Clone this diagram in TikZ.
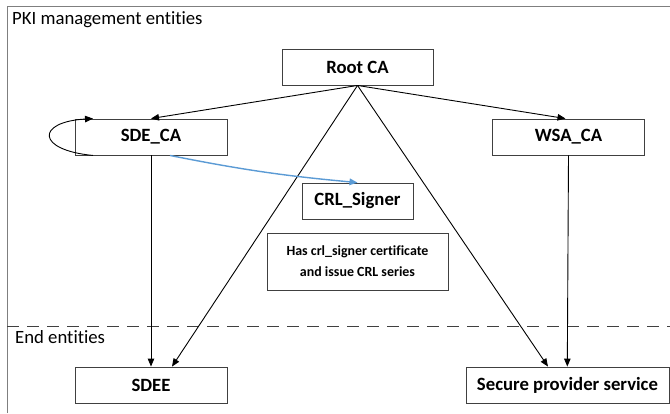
\documentclass[tikz,border=0pt]{standalone}
\usepackage{fontspec}
\setmainfont[Ligatures=NoCommon]{Carlito}
\usetikzlibrary{arrows.meta}
\definecolor{boxline}{HTML}{404040}
\definecolor{frameline}{HTML}{7F7F7F}
\definecolor{blueline}{HTML}{5B9BD5}
\begin{document}
\begin{tikzpicture}[x=1bp,y=-1bp,
  entity/.style={draw=boxline,line width=0.9bp,fill=white,inner sep=0pt,
    minimum height=36bp,font=\fontsize{18.8}{21}\selectfont\bfseries},
  note/.style={draw=boxline,line width=0.9bp,fill=white,inner sep=0pt,
    minimum width=181bp,minimum height=57bp,align=center,
    font=\fontsize{14}{21}\selectfont\bfseries},
  conn/.style={line width=0.9bp,-{Triangle[length=8bp,width=6.5bp]}},
  region/.style={font=\fontsize{18.8}{21}\selectfont,anchor=base west,inner sep=0pt}]
\useasboundingbox (0,0) rectangle (670,413);
\fill[white] (0,0) rectangle (670,413);
% frame
\draw[frameline,line width=1bp] (7,413) -- (7,6) -- (670,6);
\draw[boxline,line width=0.9bp,dash pattern=on 12bp off 8bp] (7,326) -- (670,326);
\node[region] (pki) at (12,24) {PKI management entities};
\node[region] (endent) at (15,343) {End entities};
% boxes
\node[entity,minimum width=151bp] (root) at (357.5,67) {Root CA};
\node[entity,minimum width=152bp] (sdeca) at (151,137) {SDE\_CA};
\node[entity,minimum width=152bp] (wsa) at (568.5,137) {WSA\_CA};
\node[entity,minimum width=111bp] (crl) at (357.5,201) {CRL\_Signer};
\node[note] (notebox) at (357.5,261.5) {Has crl\_signer certificate\\and issue CRL series};
\node[entity,minimum width=152bp] (sdee) at (151,385) {SDEE};
\node[entity,minimum width=203bp] (sps) at (567.5,385) {Secure provider service};
% connectors
\draw[conn] (root.south) -- (sdeca.north);
\draw[conn] (root.south) -- ([xshift=-3bp]wsa.north);
\draw[conn] (root.south) -- ([xshift=21bp]sdee.north);
\draw[conn] (root.south) -- ([xshift=-19.5bp]sps.north);
\draw[conn] (sdeca.south) -- (sdee.north);
\draw[conn] (wsa.south) -- ([xshift=-0.2bp]sps.north);
\draw[conn,blueline,line width=1.4bp] ([xshift=19bp]sdeca.south) to[bend right=3] (crl.north);
\draw[conn] ([xshift=-58bp]sdeca.south) .. controls (36,150) and (36,122) .. ([xshift=-58bp]sdeca.north);
\end{tikzpicture}
\end{document}
